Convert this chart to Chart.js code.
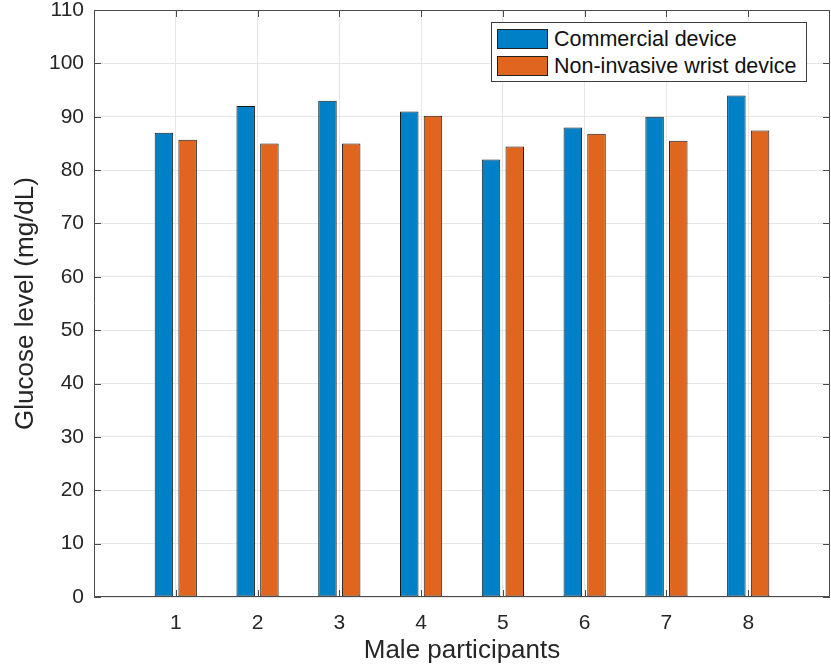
<!DOCTYPE html>
<html>
<head>
<meta charset="utf-8">
<title>Glucose level - male participants</title>
<script src="https://cdn.jsdelivr.net/npm/chart.js@4/dist/chart.umd.min.js"></script>
<style>
  html, body { margin:0; padding:0; background:#fff; }
  #wrap { position:relative; width:831px; height:671px; }
  #legend {
    position:absolute; left:491px; top:22px; width:314px; height:58px;
    border:1px solid #3c3c3c; background:#fff;
    font-family:'Liberation Sans', Arial, Helvetica, sans-serif; font-size:21.5px; color:#111;
  }
  #legend .item { position:absolute; left:5px; height:20px; display:flex; align-items:center; white-space:nowrap; }
  #legend .sw { width:51px; height:20px; border:1px solid #222; margin-right:6px; box-sizing:border-box; }
</style>
</head>
<body>
<div id="wrap">
  <canvas id="chart" width="831" height="671"></canvas>
  <div id="legend"></div>
</div>
<script>
/* ---------- data ---------- */
const participants = [1, 2, 3, 4, 5, 6, 7, 8];
const commercial   = [87, 92, 93, 91, 82, 88, 90, 94];
const wristDevice  = [85.7, 85, 85, 90.2, 84.4, 86.8, 85.5, 87.4];
const seriesNames  = ['Commercial device', 'Non-invasive wrist device'];
const seriesColors = ['#0080C6', '#E0661F'];

const FONT = "'Liberation Sans', Arial, Helvetica, sans-serif";
const AXIS = '#4a4a4a';

const toPoints = vals => participants.map((p, i) => ({ x:p, y:vals[i] }));

/* frame + inward ticks like matlab */
const framePlugin = {
  id:'frame',
  afterDatasetsDraw(chart){
    const { ctx, chartArea:a, scales:{ x, y } } = chart;
    ctx.save();
    ctx.strokeStyle = AXIS;
    ctx.lineWidth = 1;
    ctx.beginPath();
    ctx.rect(Math.round(a.left) + .5, Math.round(a.top) + .5,
             Math.round(a.right - a.left) - 1, Math.round(a.bottom - a.top) - 1);
    const L = 7;
    y.ticks.forEach(t => {
      const py = Math.round(y.getPixelForValue(t.value)) + .5;
      ctx.moveTo(a.left, py); ctx.lineTo(a.left + L, py);
      ctx.moveTo(a.right, py); ctx.lineTo(a.right - L, py);
    });
    participants.forEach(p => {
      const px = Math.round(x.getPixelForValue(p)) + .5;
      ctx.moveTo(px, a.bottom); ctx.lineTo(px, a.bottom - L);
      ctx.moveTo(px, a.top); ctx.lineTo(px, a.top + L);
    });
    ctx.stroke();
    ctx.restore();
  }
};

const chart = new Chart(document.getElementById('chart'), {
  type:'bar',
  data:{
    datasets:[
      { label:seriesNames[0], data:toPoints(commercial), backgroundColor:seriesColors[0] },
      { label:seriesNames[1], data:toPoints(wristDevice), backgroundColor:seriesColors[1] }
    ]
  },
  options:{
    responsive:false,
    animation:false,
    layout:{ padding:{ top:10, right:1, bottom:0, left:0 } },
    datasets:{ bar:{ categoryPercentage:0.58, barPercentage:0.78, borderColor:'#1a1a1a', borderWidth:1, borderSkipped:false } },
    plugins:{ legend:{ display:false }, tooltip:{ enabled:false } },
    scales:{
      x:{
        type:'linear', min:0, max:9, offset:false,
        afterFit: s => { s.height = 74; s.paddingLeft = 0; s.paddingRight = 0; },
        grid:{ offset:false, drawTicks:false, color: c => (c.tick && c.tick.value > 0 && c.tick.value < 9) ? '#e6e6e6' : 'rgba(0,0,0,0)' },
        border:{ display:false },
        ticks:{ stepSize:1, padding:14, color:'#262626', font:{ family:FONT, size:21 },
                callback: v => participants.includes(v) ? String(v) : '' },
        title:{ display:true, text:'Male participants', color:'#262626',
                font:{ family:FONT, size:26 }, padding:{ top:0, bottom:5 } }
      },
      y:{
        min:0, max:110,
        afterFit: s => { s.width = 94; s.paddingTop = 0; s.paddingBottom = 0; },
        grid:{ drawTicks:false, color:'#e6e6e6' },
        border:{ display:false },
        ticks:{ stepSize:10, padding:10, color:'#262626', font:{ family:FONT, size:21 } },
        title:{ display:true, text:'Glucose level (mg/dL)', color:'#262626',
                font:{ family:FONT, size:26 }, padding:{ top:10, bottom:0 } }
      }
    }
  },
  plugins:[framePlugin]
});

/* legend box inside the axes */
const legendEl = document.getElementById('legend');
chart.data.datasets.forEach((d, i) => {
  const item = document.createElement('div');
  item.className = 'item';
  item.style.top = (6 + i * 27) + 'px';
  item.innerHTML = `<span class="sw" style="background:${d.backgroundColor}"></span><span>${d.label}</span>`;
  legendEl.appendChild(item);
});
</script>
</body>
</html>
